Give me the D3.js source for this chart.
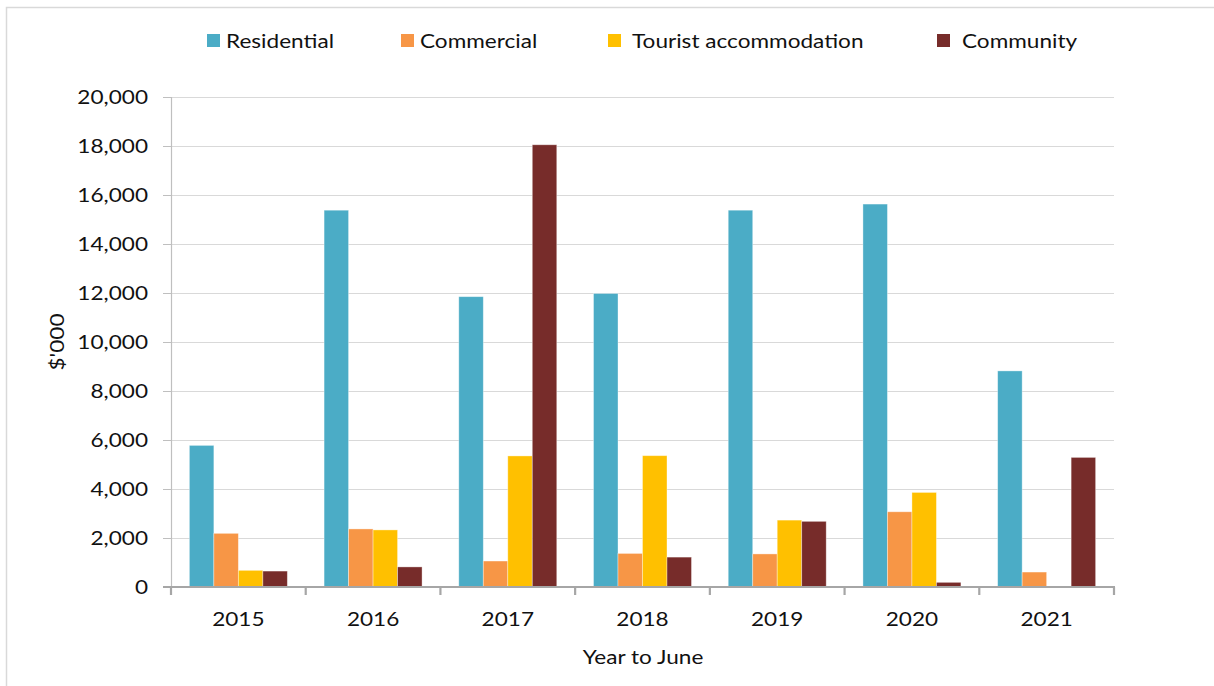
<!DOCTYPE html>
<html>
<head>
<meta charset="utf-8">
<script src="https://cdn.jsdelivr.net/npm/d3@7"></script>
<style>
  html, body { margin: 0; padding: 0; background: #fff; }
  svg { display: block; }
  text { font-family: Lato, "Open Sans", sans-serif; fill: #111; }
</style>
</head>
<body>
<svg id="chart" width="1214" height="686"></svg>
<script>
// Building approvals by type, year to June ($'000)
const years = ["2015", "2016", "2017", "2018", "2019", "2020", "2021"];
const seriesNames = ["Residential", "Commercial", "Tourist accommodation", "Community"];
const residential = [5780, 15380, 11850, 11980, 15380, 15630, 8820];
const commercial  = [2190, 2370, 1060, 1370, 1350, 3070, 610];
const tourist     = [680, 2330, 5350, 5360, 2730, 3860, 0];
const community   = [650, 820, 18050, 1220, 2680, 190, 5290];
const yTicks = [0, 2000, 4000, 6000, 8000, 10000, 12000, 14000, 16000, 18000, 20000];
const colors = ["#4BACC6", "#F79646", "#FFC000", "#772C2A"];

const values = [residential, commercial, tourist, community];

const svg = d3.select("#chart");
const plot = { left: 171, right: 1114, top: 97, bottom: 587 };
const FS = 20;       // label font size
const WIDEN = 1.13;  // horizontal widening of label glyphs

// writes a label at (x, y) with slightly widened glyphs
function label(parent, x, y, str, anchor, rotate) {
  const g = parent.append("g")
    .attr("transform", `translate(${x},${y})` + (rotate ? ` rotate(${rotate})` : "") + ` scale(${WIDEN},1)`);
  g.append("text")
    .attr("text-anchor", anchor || "start")
    .attr("dy", "0.35em")
    .attr("font-size", FS)
    .text(str);
  return g;
}

// outer frame
svg.append("path")
  .attr("d", `M6.5,686 V7.5 H1214`)
  .attr("fill", "none")
  .attr("stroke", "#d9d9d9")
  .attr("stroke-width", 1.5);

const x0 = d3.scaleBand().domain(years).range([plot.left, plot.right]).paddingInner(0).paddingOuter(0);
const x1 = d3.scaleBand().domain(seriesNames).range([0, x0.bandwidth()]).paddingInner(0).paddingOuter(0.75);
const y = d3.scaleLinear().domain([0, 20000]).range([plot.bottom, plot.top]);
const fmt = d3.format(",");

// gridlines
svg.append("g")
  .selectAll("line")
  .data(yTicks.filter(t => t > 0))
  .join("line")
  .attr("x1", plot.left).attr("x2", plot.right)
  .attr("y1", d => Math.round(y(d)) + 0.5).attr("y2", d => Math.round(y(d)) + 0.5)
  .attr("stroke", "#d9d9d9").attr("stroke-width", 1);

// y axis
const yAxis = svg.append("g")
  .attr("transform", `translate(${plot.left},0)`)
  .call(d3.axisLeft(y).tickValues(yTicks).tickFormat(() => "").tickSize(8));
yAxis.select(".domain").attr("stroke", "#bfbfbf").attr("stroke-width", 1.2);
yAxis.selectAll(".tick line").attr("stroke", "#bfbfbf");
const yLabels = svg.append("g");
yTicks.forEach(t => label(yLabels, 148, y(t), fmt(t), "end"));

// bars
const groups = svg.append("g")
  .selectAll("g")
  .data(years)
  .join("g")
  .attr("transform", d => `translate(${x0(d)},0)`);

groups.selectAll("rect")
  .data((yr, i) => seriesNames.map((s, k) => ({ s, k, v: values[k][i] })))
  .join("rect")
  .attr("x", d => x1(d.s))
  .attr("width", x1.bandwidth())
  .attr("y", d => y(d.v))
  .attr("height", d => y(0) - y(d.v))
  .attr("fill", d => colors[d.k])
  .attr("stroke", "#ffffff")
  .attr("stroke-opacity", d => d.v > 0 ? 0.45 : 0)
  .attr("stroke-width", 0.8);

// x axis
const xAxis = svg.append("g")
  .attr("transform", `translate(0,${plot.bottom})`);
xAxis.append("line")
  .attr("x1", plot.left - 8).attr("x2", plot.right + 1)
  .attr("y1", 0).attr("y2", 0)
  .attr("stroke", "#a6a6a6").attr("stroke-width", 2.2);
const tickXs = years.map(d => x0(d)).concat([plot.right]);
xAxis.selectAll("line.tick")
  .data(tickXs)
  .join("line")
  .attr("class", "tick")
  .attr("x1", d => d).attr("x2", d => d)
  .attr("y1", 0).attr("y2", 8)
  .attr("stroke", "#a6a6a6").attr("stroke-width", 2.2);
const xLabels = svg.append("g");
years.forEach(yr => label(xLabels, x0(yr) + x0.bandwidth() / 2, 619, yr, "middle"));

// axis titles
label(svg, 643, 657, "Year to June", "middle");
label(svg, 57, 342, "$'000", "middle", -90);

// legend
const swatchX = [207, 401, 608, 937];
const legendTextX = [226, 420, 632, 962];
const legend = svg.append("g");
seriesNames.forEach((name, i) => {
  legend.append("rect")
    .attr("x", swatchX[i]).attr("y", 34)
    .attr("width", 13).attr("height", 13)
    .attr("fill", colors[i]);
  label(legend, legendTextX[i], 41, name, "start");
});
</script>
</body>
</html>
